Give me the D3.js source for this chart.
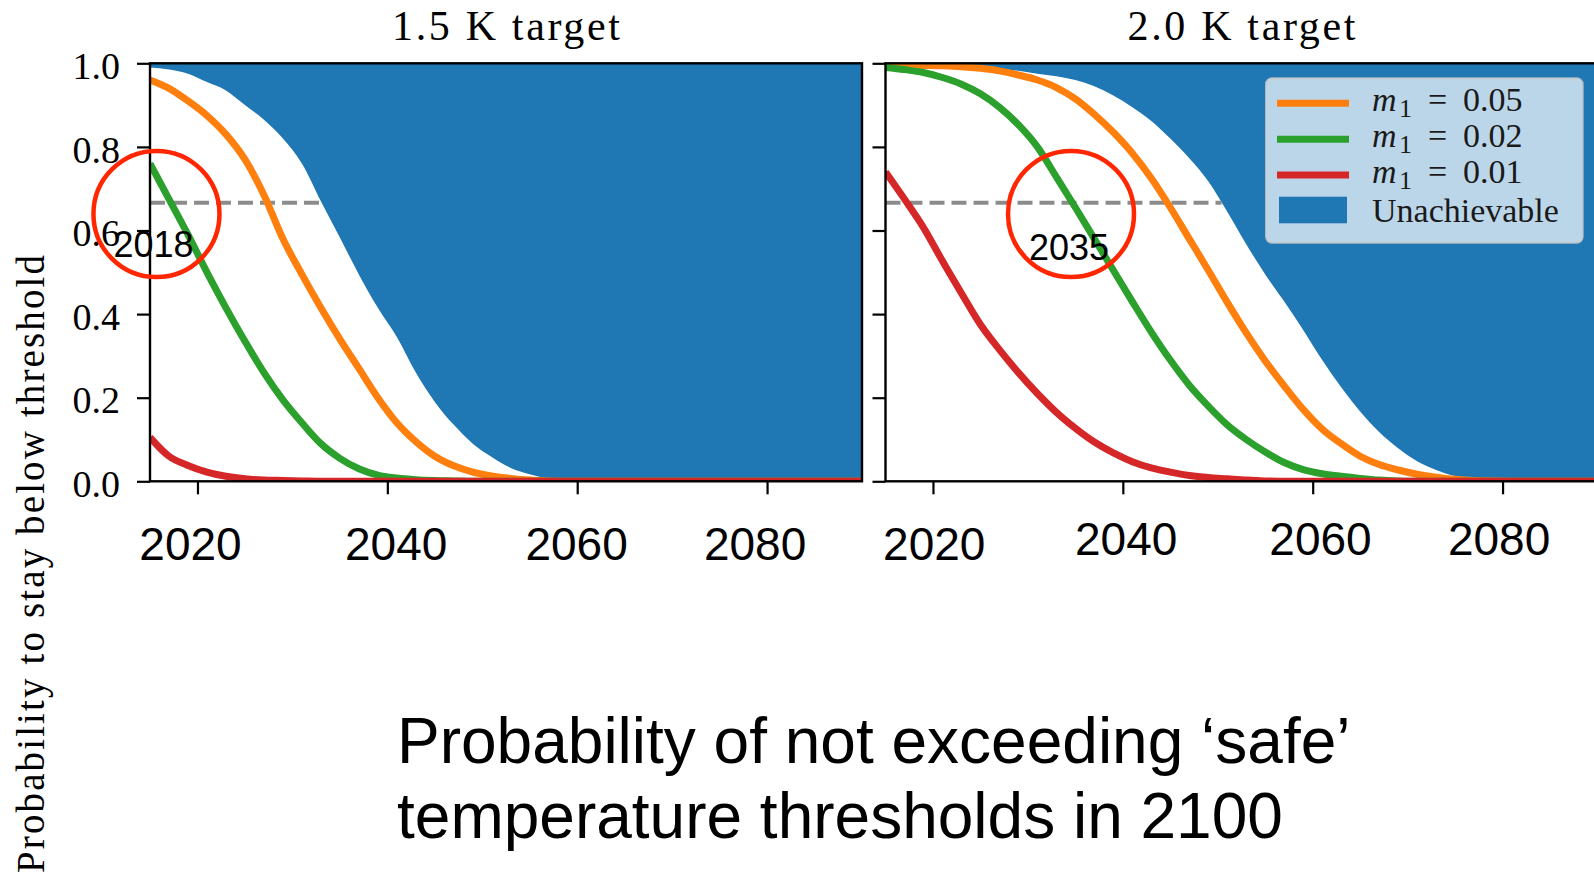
<!DOCTYPE html>
<html>
<head>
<meta charset="utf-8">
<script src="https://cdn.jsdelivr.net/npm/d3@7"></script>
<style>
  body { margin: 0; background: #ffffff; }
  svg { display: block; }
</style>
</head>
<body>
<svg id="chart" width="1594" height="877"></svg>
<script>
// ---- data ----------------------------------------------------------------
const years = [2015, 2017, 2019, 2021, 2023, 2025, 2027, 2029, 2031, 2033,
               2035, 2037, 2039, 2041, 2043, 2045, 2047, 2049, 2051, 2053,
               2055, 2057, 2059, 2061, 2063, 2065, 2067, 2069, 2071, 2073,
               2075, 2077, 2079, 2081, 2083, 2085, 2087, 2089, 2090];

// 1.5 K target
const unachievable15 = [0.99, 0.985, 0.975, 0.955, 0.935, 0.90, 0.865, 0.82, 0.76, 0.67,
                        0.583, 0.495, 0.415, 0.345, 0.26, 0.19, 0.135, 0.09, 0.058, 0.032,
                        0.017, 0.006, 0.001, 0, 0, 0, 0, 0, 0, 0,
                        0, 0, 0, 0, 0, 0, 0, 0, 0];
const m005_15 = [0.96, 0.94, 0.91, 0.875, 0.83, 0.77, 0.685, 0.58, 0.495, 0.415,
                 0.34, 0.27, 0.2, 0.14, 0.095, 0.06, 0.037, 0.022, 0.013, 0.007,
                 0.003, 0.001, 0, 0, 0, 0, 0, 0, 0, 0,
                 0, 0, 0, 0, 0, 0, 0, 0, 0];
const m002_15 = [0.76, 0.675, 0.59, 0.5, 0.415, 0.335, 0.26, 0.195, 0.14, 0.09,
                 0.055, 0.03, 0.015, 0.008, 0.004, 0.002, 0.001, 0, 0, 0,
                 0, 0, 0, 0, 0, 0, 0, 0, 0, 0,
                 0, 0, 0, 0, 0, 0, 0, 0, 0];
const m001_15 = [0.105, 0.06, 0.038, 0.022, 0.012, 0.006, 0.003, 0.002, 0.001, 0,
                 0, 0, 0, 0, 0, 0, 0, 0, 0, 0,
                 0, 0, 0, 0, 0, 0, 0, 0, 0, 0,
                 0, 0, 0, 0, 0, 0, 0, 0, 0];

// 2.0 K target
const unachievable20 = [0.997, 0.996, 0.995, 0.993, 0.991, 0.99, 0.987, 0.982, 0.975, 0.969,
                        0.96, 0.945, 0.923, 0.895, 0.862, 0.82, 0.773, 0.718, 0.645, 0.567,
                        0.495, 0.43, 0.362, 0.29, 0.225, 0.167, 0.118, 0.079, 0.048, 0.027,
                        0.012, 0.004, 0.001, 0, 0, 0, 0, 0, 0];
const m005_20 = [0.997, 0.996, 0.995, 0.994, 0.992, 0.988, 0.982, 0.972, 0.96, 0.942,
                 0.915, 0.878, 0.835, 0.785, 0.725, 0.655, 0.58, 0.505, 0.428, 0.355,
                 0.288, 0.228, 0.172, 0.125, 0.09, 0.06, 0.04, 0.027, 0.017, 0.01,
                 0.005, 0.002, 0.001, 0, 0, 0, 0, 0, 0];
const m002_20 = [0.99, 0.985, 0.978, 0.966, 0.95, 0.927, 0.895, 0.853, 0.8, 0.728,
                 0.655, 0.58, 0.505, 0.43, 0.357, 0.29, 0.23, 0.18, 0.135, 0.1,
                 0.07, 0.045, 0.028, 0.018, 0.012, 0.007, 0.003, 0.001, 0, 0,
                 0, 0, 0, 0, 0, 0, 0, 0, 0];
const m001_20 = [0.74, 0.675, 0.607, 0.527, 0.45, 0.375, 0.315, 0.26, 0.21, 0.165,
                 0.127, 0.094, 0.068, 0.047, 0.032, 0.022, 0.014, 0.009, 0.006, 0.003,
                 0.001, 0, 0, 0, 0, 0, 0, 0, 0, 0,
                 0, 0, 0, 0, 0, 0, 0, 0, 0];

const panelTitles = ["1.5 K target", "2.0 K target"];
const m1Values = ["0.05", "0.02", "0.01"];
const unachievableLabel = "Unachievable";
const yTicks = [0, 0.2, 0.4, 0.6, 0.8, 1.0];
const xTicks = [2020, 2040, 2060, 2080];
const likelyThreshold = 2 / 3;
const highlightYears = ["2018", "2035"];
const yLabel = "Probability to stay below threshold";
const captionLines = ["Probability of not exceeding \u2018safe\u2019",
                      "temperature thresholds in 2100"];

// ---- layout --------------------------------------------------------------
const COLORS = { m005: "#ff7f0e", m002: "#2ca02c", m001: "#d62728", fill: "#1f77b4" };
const SERIF = "'Liberation Serif', 'Times New Roman', serif";
const SANS = "'Liberation Sans', Arial, Helvetica, sans-serif";
const PANEL_W = 712, TOP = 63.3, BOT = 481.3;
const panelLefts = [150, 885.5];
// small per-label horizontal/vertical placement of the year labels
const xLabelShift = [[-7.5, 8.3, -1.1, -12.5], [0.8, 2.8, 7.3, -4]];
const xLabelBase = [[560, 560, 560, 560], [560, 555, 555, 555]];

const panels = [
  { title: panelTitles[0], fill: unachievable15, lines: [m005_15, m002_15, m001_15] },
  { title: panelTitles[1], fill: unachievable20, lines: [m005_20, m002_20, m001_20] }
];
const lineColors = [COLORS.m005, COLORS.m002, COLORS.m001];

const svg = d3.select("#chart");
const y = d3.scaleLinear().domain([0, 1]).range([BOT, TOP]);
const xScales = [];

panels.forEach((p, i) => {
  const left = panelLefts[i];
  const x = d3.scaleLinear().domain([2015, 2090]).range([left, left + PANEL_W]);
  xScales.push(x);
  const g = svg.append("g").attr("class", "panel");

  const clipId = "clip" + i;
  svg.append("defs").append("clipPath").attr("id", clipId)
    .append("rect").attr("x", left).attr("y", TOP)
    .attr("width", PANEL_W).attr("height", BOT - TOP);

  const plot = g.append("g").attr("clip-path", `url(#${clipId})`);

  // unachievable region: between the upper bound curve and 1
  const area = d3.area()
    .curve(d3.curveMonotoneX)
    .x((d, j) => x(years[j]))
    .y0(y(1))
    .y1(d => y(d));
  plot.append("path").datum(p.fill).attr("d", area).attr("fill", COLORS.fill);

  // 2/3 probability reference, running to where the region begins
  let crossYear = years[0];
  for (let j = 1; j < years.length; j++) {
    const a = p.fill[j - 1], b = p.fill[j];
    if (a >= likelyThreshold && b < likelyThreshold) {
      crossYear = years[j - 1] + (a - likelyThreshold) / (a - b) * (years[j] - years[j - 1]);
      break;
    }
  }
  plot.append("line")
    .attr("x1", x(2015)).attr("x2", x(crossYear))
    .attr("y1", y(likelyThreshold)).attr("y2", y(likelyThreshold))
    .attr("stroke", "#8c8c8c").attr("stroke-width", 4)
    .attr("stroke-dasharray", "15 7");

  const line = d3.line().curve(d3.curveMonotoneX)
    .x((d, j) => x(years[j])).y(d => y(d));
  p.lines.forEach((vals, k) => {
    plot.append("path").datum(vals).attr("d", line)
      .attr("fill", "none").attr("stroke", lineColors[k])
      .attr("stroke-width", 7).attr("stroke-linejoin", "round");
  });

  // axes
  const yAxis = d3.axisLeft(y).tickValues(yTicks).tickSize(13).tickPadding(17)
    .tickFormat(i === 0 ? d3.format(".1f") : () => "");
  const ya = g.append("g").attr("transform", `translate(${left},0)`).call(yAxis);
  ya.select(".domain").remove();
  ya.selectAll(".tick line").attr("stroke", "#000").attr("stroke-width", 2.2);
  ya.selectAll(".tick text").attr("font-family", SERIF).attr("font-size", 38)
    .attr("fill", "#000").attr("dy", "0.4em");

  const xAxis = d3.axisBottom(x).tickValues(xTicks).tickSize(13)
    .tickFormat(d3.format("d"));
  const xa = g.append("g").attr("transform", `translate(0,${BOT})`).call(xAxis);
  xa.select(".domain").remove();
  xa.selectAll(".tick line").attr("stroke", "#000").attr("stroke-width", 2.2);
  xa.selectAll(".tick text")
    .attr("font-family", SANS).attr("font-size", 46).attr("fill", "#000")
    .attr("dy", 0)
    .attr("x", (d, k) => xLabelShift[i][k])
    .attr("y", (d, k) => xLabelBase[i][k] - BOT);

  // frame
  g.append("rect").attr("x", left).attr("y", TOP)
    .attr("width", PANEL_W).attr("height", BOT - TOP)
    .attr("fill", "none").attr("stroke", "#000").attr("stroke-width", 2.4);

  // title
  svg.append("text").attr("x", left + PANEL_W / 2).attr("y", 40)
    .attr("text-anchor", "middle").attr("font-family", SERIF).attr("font-size", 42)
    .attr("textLength", 228).attr("lengthAdjust", "spacing")
    .attr("fill", "#000").text(p.title);
});

// ---- legend (right panel) -------------------------------------------------
const leg = svg.append("g").attr("class", "legend");
leg.append("rect").attr("x", 1266).attr("y", 78.3).attr("width", 316.7).attr("height", 164.4)
  .attr("rx", 6).attr("fill", "#ffffff").attr("fill-opacity", 0.7)
  .attr("stroke", "#cccccc").attr("stroke-opacity", 0.8).attr("stroke-width", 2);

const rowY = [103.3, 139.3, 175];
const rowBase = [110.7, 147.3, 182.7];
m1Values.forEach((v, k) => {
  leg.append("line").attr("x1", 1277).attr("x2", 1349)
    .attr("y1", rowY[k]).attr("y2", rowY[k])
    .attr("stroke", lineColors[k]).attr("stroke-width", 7);
  const t = leg.append("text").attr("y", rowBase[k])
    .attr("font-family", SERIF).attr("font-size", 34).attr("fill", "#1a1a1a");
  t.append("tspan").attr("x", 1372).attr("font-style", "italic").text("m");
  t.append("tspan").attr("x", 1399).attr("dy", 6).attr("font-size", 26).text("1");
  t.append("tspan").attr("x", 1428).attr("dy", -6).text("=");
  t.append("tspan").attr("x", 1463).text(v);
});
leg.append("rect").attr("x", 1279).attr("y", 196.7).attr("width", 68).attr("height", 26.6)
  .attr("fill", COLORS.fill);
leg.append("text").attr("x", 1372).attr("y", 221.7)
  .attr("font-family", SERIF).attr("font-size", 34).attr("fill", "#1a1a1a")
  .text(unachievableLabel);

// ---- y label ----------------------------------------------------------------
svg.append("text")
  .attr("transform", "translate(44,564) rotate(-90)")
  .attr("text-anchor", "middle").attr("font-family", SERIF).attr("font-size", 39)
  .attr("textLength", 618).attr("lengthAdjust", "spacing")
  .attr("fill", "#000").text(yLabel);

// ---- highlighted crossing years ---------------------------------------------
const ringCentres = [[2015.68, 0.6395], [2034.54, 0.6395]];
const ringLabelShift = [[-3, 43], [-2, 46]];
highlightYears.forEach((lab, i) => {
  const cx = xScales[i](ringCentres[i][0]);
  const cy = y(ringCentres[i][1]);
  svg.append("circle").attr("cx", cx).attr("cy", cy).attr("r", 63)
    .attr("fill", "none").attr("stroke", "#ff2600").attr("stroke-width", 4.5);
  svg.append("text").attr("x", cx + ringLabelShift[i][0]).attr("y", cy + ringLabelShift[i][1])
    .attr("text-anchor", "middle").attr("font-family", SANS).attr("font-size", 36)
    .attr("fill", "#000").text(lab);
});

// ---- caption ------------------------------------------------------------------
const captionBase = [763, 838];
captionLines.forEach((s, k) => {
  svg.append("text").attr("x", 397).attr("y", captionBase[k])
    .attr("font-family", SANS).attr("font-size", 64).attr("fill", "#000").text(s);
});
</script>
</body>
</html>
